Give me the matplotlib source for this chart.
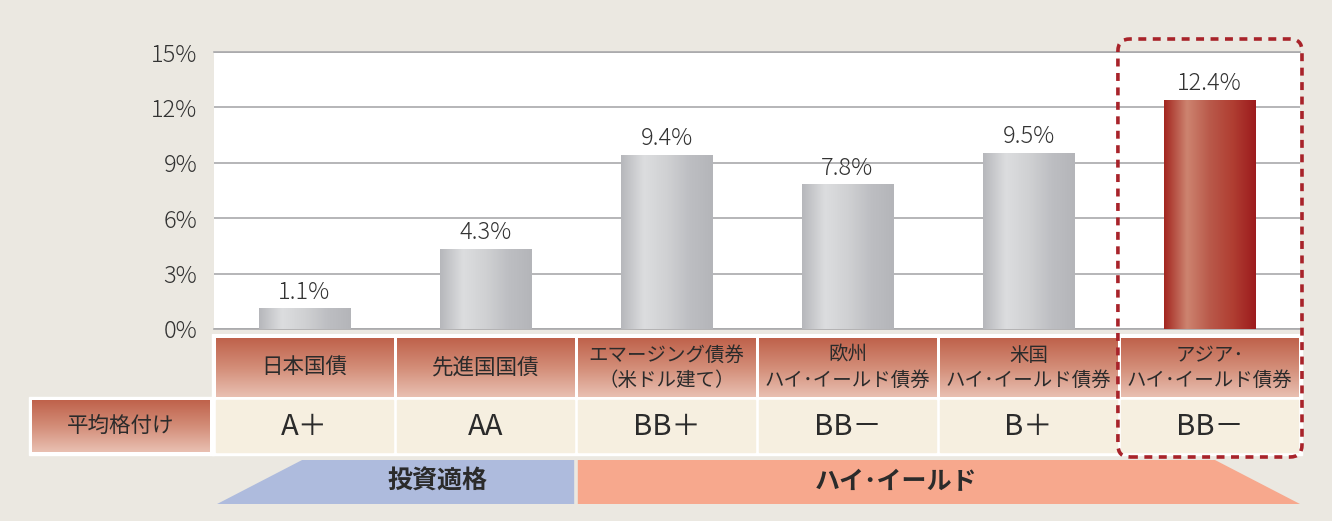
import numpy as np
import matplotlib
matplotlib.use("Agg")
import matplotlib.pyplot as plt
from matplotlib.colors import LinearSegmentedColormap
from matplotlib.patches import Rectangle, Polygon, FancyBboxPatch

plt.rcParams['font.family'] = ['Noto Sans CJK JP', 'DejaVu Sans']

# data
categories = ["日本国債", "先進国国債", "エマージング債券\n（米ドル建て）",
              "欧州\nハイ･イールド債券", "米国\nハイ･イールド債券", "アジア･\nハイ･イールド債券"]
values = [1.1, 4.3, 9.4, 7.8, 9.5, 12.4]
ratings = ["A＋", "AA", "BB＋", "BB－", "B＋", "BB－"]
rating_label = "平均格付け"
groups = ["投資適格", "ハイ･イールド"]
group_span = [(-0.5, 1.5), (1.5, 5.5)]
yticks = [0, 3, 6, 9, 12, 15]
highlight = 5

# colours
bg = '#EBE8E1'
txt = '#2B2B2B'
grid_c = '#A9A9AB'
gray_stops = ['#B6B7BB', '#DCDDDF', '#D0D1D3', '#BDBEC2', '#B4B5B9']
red_stops = ['#A3261F', '#CD8470', '#B9594A', '#B03E32', '#9C1B1D']
head_stops = ['#BF624B', '#D38D78', '#E9C0B2']
rate_c = '#F6EFE0'
blue_c = '#AEBBDD'
orange_c = '#F7A88D'
box_c = '#A8232A'

W, H = 1332, 521
fig = plt.figure(figsize=(W / 100, H / 100), dpi=100)
fig.set_facecolor(bg)


def fill_grad(ax, x0, x1, ytop, ybot, stops, horizontal, z=2):
    cmap = LinearSegmentedColormap.from_list('g', stops)
    g = np.linspace(0, 1, 256)
    arr = g[None, :] if horizontal else g[:, None]
    ax.imshow(arr, cmap=cmap, extent=(x0, x1, ybot, ytop), origin='upper',
              aspect='auto', zorder=z, interpolation='bicubic')


# bar chart
ax = fig.add_axes([214 / W, (H - 329) / H, 1086 / W, 277 / H])
ax.set_facecolor('white')
bars = ax.bar(range(len(values)), values, width=0.505, color='none', zorder=3)
for i, b in enumerate(bars):
    stops = red_stops if i == highlight else gray_stops
    fill_grad(ax, b.get_x(), b.get_x() + b.get_width(), b.get_height(), 0,
              stops, True, z=3)
    ax.annotate(f"{values[i]:.1f}%", (b.get_x() + b.get_width() / 2, b.get_height()),
                xytext=(0, 3), textcoords='offset points', ha='center', va='bottom',
                fontsize=17, color='#333333', fontweight='light')
ax.set_xlim(-0.5, 5.5)
ax.set_ylim(0, 15)
ax.set_yticks(yticks)
ax.set_yticklabels([f"{t}%" for t in yticks], fontsize=17, color='#333333',
                   fontweight='light')
ax.set_xticks([])
ax.tick_params(axis='y', length=0, pad=12)
ax.yaxis.grid(True, color=grid_c, lw=1.2, zorder=1)
ax.set_axisbelow(True)
for s in ['left', 'right']:
    ax.spines[s].set_visible(False)
for s in ['top', 'bottom']:
    ax.spines[s].set_color(grid_c)
    ax.spines[s].set_linewidth(1.2)

# table + groups (x in category units, y in pixel rows)
tx0 = 214 - 181 * 1.05
tab = fig.add_axes([tx0 / W, (H - 510) / H, 181 * 7.1 / W, 176 / H])
tab.set_xlim(-1.55, 5.55)
tab.set_ylim(510, 334)
tab.axis('off')

gap = 1.8 / 181
tab.add_patch(Rectangle((-0.5 - gap, 334), 6 + 2 * gap, 121, color='white', zorder=1))
tab.add_patch(Rectangle((-1.52, 397), 1.02, 58, color='white', zorder=1))

for i, (c, r) in enumerate(zip(categories, ratings)):
    fill_grad(tab, i - 0.5 + gap, i + 0.5 - gap, 338, 397, head_stops, False)
    tab.add_patch(Rectangle((i - 0.5 + gap, 400), 1 - 2 * gap, 52, color=rate_c, zorder=2))
    fs = 14 if '\n' in c else 15.5
    tab.text(i, 368, c, ha='center', va='center', fontsize=fs, color=txt,
             linespacing=1.25, zorder=4)
    tab.text(i, 427, r, ha='center', va='center', fontsize=21, color=txt, zorder=4)

fill_grad(tab, -1.505, -0.522, 400, 452, head_stops, False)
tab.text((-1.505 - 0.522) / 2, 426, rating_label, ha='center', va='center',
         fontsize=15.5, color=txt, zorder=4)

slant = 85 / 181
x0, x1 = group_span[0]
tab.add_patch(Polygon([(x0 + 0.017, 504), (x0 + 0.017 + slant, 460), (x1 - 0.01, 460),
                       (x1 - 0.01, 504)], closed=True, color=blue_c, lw=0, zorder=2))
tab.text((x0 + slant + x1) / 2, 482, groups[0], ha='center', va='center',
         fontsize=18, fontweight='bold', color=txt, zorder=4)
x0, x1 = group_span[1]
tab.add_patch(Polygon([(x0 + 0.01, 460), (x1 - slant, 460), (x1, 504), (x0 + 0.01, 504)],
                      closed=True, color=orange_c, lw=0, zorder=2))
tab.text((x0 + x1 - slant) / 2, 482, groups[1], ha='center', va='center',
         fontsize=18, fontweight='bold', color=txt, zorder=4)

# dashed highlight box, drawn in pixel space
fig.canvas.draw()
(px0, py0) = tab.transData.transform((highlight - 0.506, 457))
(px1, py1) = tab.transData.transform((highlight + 0.511, 39))
box = FancyBboxPatch((px0, py0), px1 - px0, py1 - py0,
                     boxstyle='round,pad=0,rounding_size=12', transform=None,
                     fill=False, edgecolor=box_c, lw=2.6, linestyle=(0, (2.2, 1.8)),
                     zorder=10)
fig.patches.append(box)

fig.savefig('out.png', dpi=100, facecolor=bg)
